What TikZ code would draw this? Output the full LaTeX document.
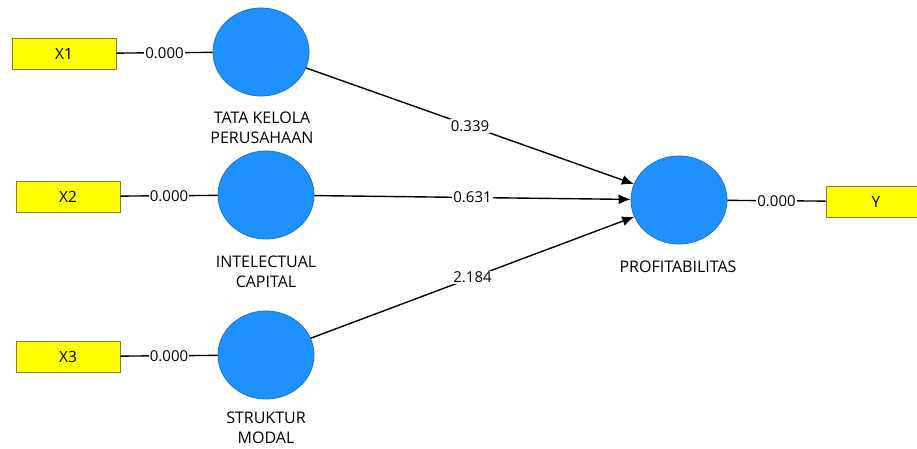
\documentclass[tikz,border=0pt]{standalone}
\usepackage{fontspec}
\setmainfont{Open Sans}
\usetikzlibrary{shapes.geometric,arrows.meta}
\definecolor{lvblue}{RGB}{30,144,255}
\definecolor{lvborder}{RGB}{25,115,215}
\definecolor{mvyellow}{RGB}{255,255,0}
\definecolor{mvborder}{RGB}{130,130,40}
\tikzset{
  lv/.style={ellipse, draw=lvborder, line width=0.8pt, fill=lvblue, minimum width=96pt, minimum height=88pt, inner sep=0pt},
  mv/.style={rectangle, draw=mvborder, line width=0.8pt, fill=mvyellow, minimum width=104pt, minimum height=31pt, inner sep=0pt, font=\fontsize{15.5}{17}\selectfont},
  lvname/.style={align=center, font=\fontsize{16}{19.5}\selectfont, inner sep=0pt},
  wlab/.style={fill=white, inner sep=1pt, font=\fontsize{15}{17}\selectfont},
  conn/.style={line width=1.4pt, black},
  path/.style={conn, -{Latex[length=12pt,width=10pt]}}
}
\begin{document}
\begin{tikzpicture}[x=1pt,y=-1pt]
\clip (0,0) rectangle (917,448);
\fill[white] (0,0) rectangle (917,448);
% latent variables
\node[lv] (tkp) at (261,52) {};
\node[lv] (ic) at (266,195) {};
\node[lv] (sm) at (266,355) {};
\node[lv] (prof) at (679,200) {};
% names
\node[lvname] (tkpn) at (262,128) {TATA KELOLA\\PERUSAHAAN};
\node[lvname] (icn) at (266,272) {INTELECTUAL\\CAPITAL};
\node[lvname] (smn) at (266,428) {STRUKTUR\\MODAL};
\node[lvname] (profn) at (678,267) {PROFITABILITAS};
% indicators
\node[mv] (x1) at (64,53.5) {X1};
\node[mv] (x2) at (68,196.5) {X2};
\node[mv] (x3) at (68,356.5) {X3};
\node[mv] (y) at (878,201.5) {};
\node[font=\fontsize{15.5}{17}\selectfont] (ylab) at (876,201.5) {Y};
% outer connectors
\draw[conn] (x1) -- node[wlab] (l1) {0.000} (tkp);
\draw[conn] (x2) -- node[wlab] (l2) {0.000} (ic);
\draw[conn] (x3) -- node[wlab] (l3) {0.000} (sm);
\draw[conn] (prof) -- node[wlab] (l4) {0.000} (y);
% inner paths
\draw[path] (tkp) -- node[wlab] (p1) {0.339} (prof);
\draw[path] (ic) -- node[wlab] (p2) {0.631} (prof);
\draw[path] (sm) -- node[wlab] (p3) {2.184} (prof);
\end{tikzpicture}
\end{document}
